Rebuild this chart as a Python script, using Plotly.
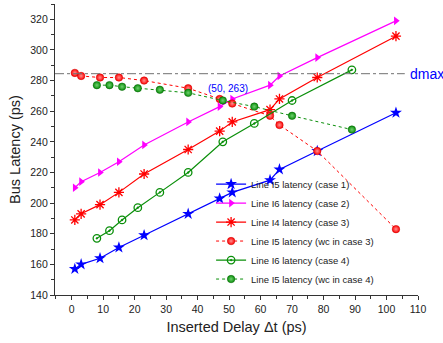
import plotly.graph_objects as go

# ---- data ----
delay_a = [1, 3, 9, 15, 23, 37, 47, 51, 63, 66, 78, 103]
delay_b = [8, 12, 16, 21, 28, 37, 48, 58, 70, 89]

i5_case1 = [157, 160, 164, 171, 179, 193, 203, 207, 215, 222, 234, 259]
i6_case2 = [210, 214, 220, 227, 238, 253, 263, 268, 277, 283, 295, 319]
i4_case3 = [189, 193, 199, 207, 219, 235, 247, 253, 261, 268, 282, 309]
i5_wc3 = [285, 283, 282, 282, 280, 275, 268, 265, 257, 251, 234, 183]
i6_case4 = [177, 182, 189, 197, 207, 220, 240, 252, 267, 287]
i5_wc4 = [277, 277, 276, 275, 274, 272, 267, 263, 257, 248]

dmax = 284.5
note_text = "(50, 263)"
note_pos = (49.5, 275)

names = [
    "Line I5 latency (case 1)",
    "Line I6 latency (case 2)",
    "Line I4 latency (case 3)",
    "Line I5 latency (wc in case 3)",
    "Line I6 latency (case 4)",
    "Line I5 latency (wc in case 4)",
]

BLUE = "#0000ff"
MAG = "#ff00ff"
RED = "#ff0000"
GREEN = "#0a8f0a"
FONT = "Arial, Liberation Sans, sans-serif"

fig = go.Figure()
fig.add_trace(go.Scatter(x=delay_a, y=i5_case1, name=names[0], mode="lines+markers",
                         line=dict(color=BLUE, width=1.2),
                         marker=dict(symbol="star", size=9, color=BLUE)))
fig.add_trace(go.Scatter(x=delay_a, y=i6_case2, name=names[1], mode="lines+markers",
                         line=dict(color=MAG, width=1.2),
                         marker=dict(symbol="triangle-right", size=7.5, color=MAG)))
fig.add_trace(go.Scatter(x=delay_a, y=i4_case3, name=names[2], mode="lines+markers",
                         line=dict(color=RED, width=1.2),
                         marker=dict(symbol="asterisk-open", size=8.5, color=RED,
                                     line=dict(color=RED, width=1.3))))
fig.add_trace(go.Scatter(x=delay_a, y=i5_wc3, name=names[3], mode="lines+markers",
                         line=dict(color=RED, width=1, dash="dot"),
                         marker=dict(symbol="circle", size=7.5, color=RED,
                                     gradient=dict(type="radial", color="#ff9090"),
                                     line=dict(color="#cc0000", width=0.5))))
fig.add_trace(go.Scatter(x=delay_b, y=i6_case4, name=names[4], mode="lines+markers",
                         line=dict(color=GREEN, width=1.2),
                         marker=dict(symbol="circle-open-dot", size=7.5, color=GREEN,
                                     line=dict(color=GREEN, width=1.3))))
fig.add_trace(go.Scatter(x=delay_b, y=i5_wc4, name=names[5], mode="lines+markers",
                         line=dict(color=GREEN, width=1, dash="dot"),
                         marker=dict(symbol="circle", size=7.5, color=GREEN,
                                     gradient=dict(type="radial", color="#70d070"),
                                     line=dict(color="#006000", width=0.5))))

fig.add_shape(type="line", xref="x", yref="y", x0=-5.3, x1=105.8, y0=dmax, y1=dmax,
              line=dict(color="#707070", width=1, dash="dashdot"))
fig.add_annotation(x=106.9, y=dmax, xref="x", yref="y", text="dmax", showarrow=False,
                   xanchor="left", yanchor="middle", font=dict(family=FONT, size=14, color=BLUE))
fig.add_annotation(x=note_pos[0], y=note_pos[1], xref="x", yref="y", text=note_text,
                   showarrow=False, xanchor="center", yanchor="middle",
                   font=dict(family=FONT, size=10, color=BLUE))

axis_common = dict(showline=True, linecolor="#333333", linewidth=1.3, ticks="outside",
                   ticklen=4, tickwidth=1.2, tickcolor="#333333", showgrid=False,
                   zeroline=False, tickfont=dict(family=FONT, size=10.5, color="#222222"),
                   mirror=False)

fig.update_xaxes(range=[-5.3, 110], tick0=0, dtick=10,
                 minor=dict(ticks="outside", dtick=5, ticklen=2.5, tickcolor="#333333"),
                 title=dict(text="Inserted Delay Δt (ps)", font=dict(family=FONT, size=14.5, color="#222222"),
                            standoff=8),
                 **axis_common)
fig.update_yaxes(range=[140, 330], tick0=140, dtick=20,
                 minor=dict(ticks="outside", dtick=10, ticklen=2.5, tickcolor="#333333"),
                 title=dict(text="Bus Latency (ps)", font=dict(family=FONT, size=14.5, color="#222222"),
                            standoff=6),
                 **axis_common)

fig.update_layout(
    width=443, height=343,
    margin=dict(l=55, r=24.5, t=4, b=48),
    plot_bgcolor="white", paper_bgcolor="white",
    legend=dict(x=0.43, y=0.005, xanchor="left", yanchor="bottom",
                bgcolor="rgba(0,0,0,0)", font=dict(family=FONT, size=9.5, color="#222222"),
                itemwidth=30, tracegroupgap=0),
)

fig.write_html("out.html", config={"displayModeBar": False},
               post_script="document.body.style.margin='0px';")
